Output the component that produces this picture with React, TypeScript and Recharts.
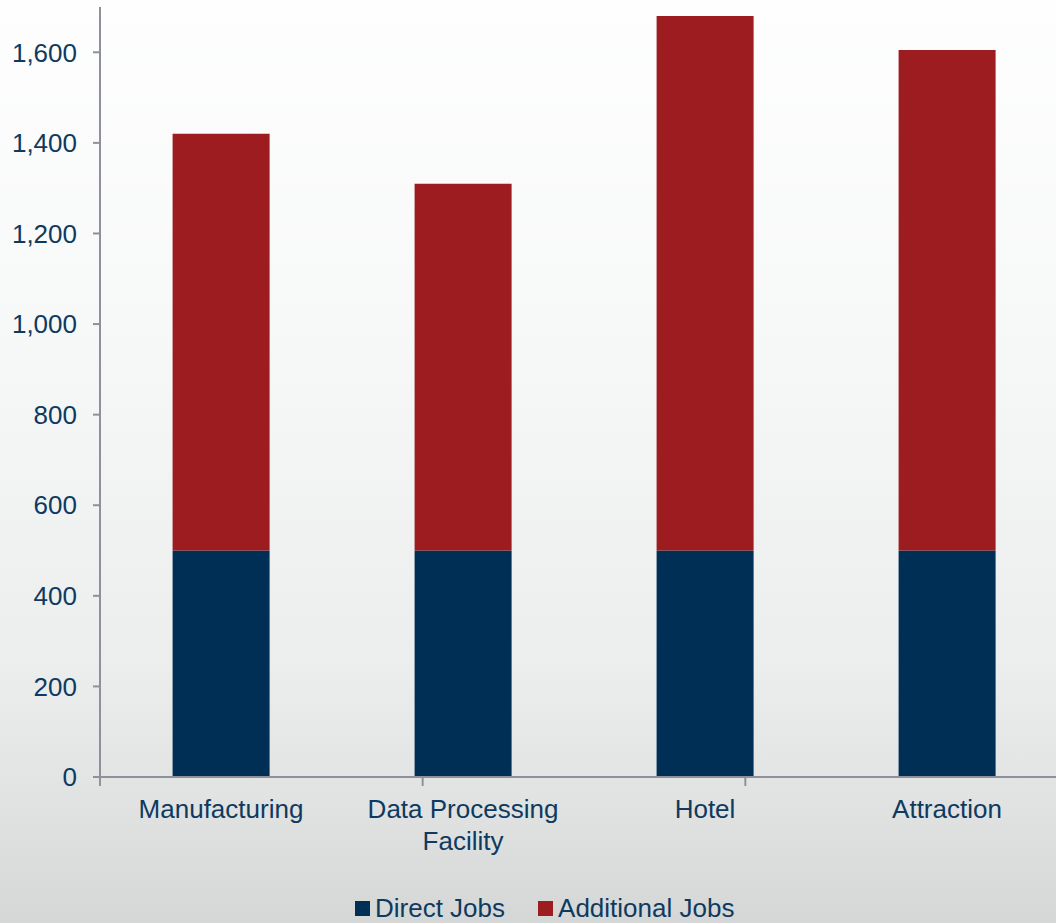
import React from 'react';
import { BarChart, Bar, XAxis, YAxis, Legend } from 'recharts';

const categories = ['Manufacturing', 'Data Processing Facility', 'Hotel', 'Attraction'];
const directJobs = [500, 500, 500, 500];
const additionalJobs = [920, 810, 1180, 1105];
const yTicks = [0, 200, 400, 600, 800, 1000, 1200, 1400, 1600];
const boundaryTicks = [0, 1, 2, 3, 4];
const seriesNames = ['Direct Jobs', 'Additional Jobs'];

const NAVY = '#002F56';
const RED = '#9C1C20';
const TEXT = '#0E3A5F';
const AXIS = '#8E9199';
const FONT = '"Liberation Sans", Arial, sans-serif';

const data = categories.map((c, i) => ({
  category: c,
  direct: directJobs[i],
  additional: additionalJobs[i],
}));

const wrapWords = (s: string, maxChars: number) => {
  const words = s.split(' ');
  const lines: string[] = [];
  let cur = '';
  words.forEach((w) => {
    const next = cur ? cur + ' ' + w : w;
    if (next.length > maxChars && cur) {
      lines.push(cur);
      cur = w;
    } else {
      cur = next;
    }
  });
  if (cur) lines.push(cur);
  return lines;
};

const CategoryTick = (props: any) => {
  const { x, y, payload } = props;
  const lines = wrapWords(String(payload.value), 16);
  return (
    <text x={x} y={y} textAnchor="middle" fill={TEXT} fontSize={26} fontFamily={FONT}>
      {lines.map((l, i) => (
        <tspan key={i} x={x} dy={i === 0 ? '0.71em' : '1.23em'}>
          {l}
        </tspan>
      ))}
    </text>
  );
};

const LegendContent = () => {
  const colors = [NAVY, RED];
  return (
    <div
      style={{
        height: 144,
        display: 'flex',
        alignItems: 'flex-end',
        justifyContent: 'flex-start',
        paddingLeft: 355,
        paddingBottom: 2,
        boxSizing: 'border-box',
        fontFamily: FONT,
        fontSize: 26,
        color: TEXT,
      }}
    >
      {seriesNames.map((n, i) => (
        <div key={n} style={{ display: 'flex', alignItems: 'center', marginRight: 33, height: 26 }}>
          <span style={{ display: 'inline-block', width: 15, height: 15, background: colors[i], marginRight: 5 }} />
          <span style={{ lineHeight: '26px' }}>{n}</span>
        </div>
      ))}
    </div>
  );
};

export default function App() {
  return (
    <div
      style={{
        position: 'absolute',
        left: 0,
        top: 0,
        width: 1056,
        height: 923,
        overflow: 'hidden',
        background: 'linear-gradient(to bottom, #fefefe 0%, #f7f8f8 35%, #eceded 72%, #e0e1e1 88%, #d5d6d6 100%)',
      }}
    >
      <BarChart
        width={1080}
        height={923}
        data={data}
        margin={{ top: 7, right: 12, left: 0, bottom: 0 }}
        barCategoryGap="30%"
      >
        <XAxis
          xAxisId="b"
          type="number"
          domain={[0, 4]}
          ticks={boundaryTicks}
          height={1}
          tickFormatter={() => ''}
          axisLine={false}
          tickLine={{ stroke: AXIS, strokeWidth: 2 }}
          tickSize={8}
        />
        <XAxis
          dataKey="category"
          height={1}
          tickLine={false}
          axisLine={{ stroke: AXIS, strokeWidth: 2 }}
          tickMargin={17}
          tick={<CategoryTick />}
          interval={0}
        />
        <YAxis
          width={100}
          domain={[0, 1700]}
          ticks={yTicks}
          allowDataOverflow
          tickFormatter={(v: number) => v.toLocaleString('en-US')}
          axisLine={{ stroke: AXIS, strokeWidth: 2 }}
          tickLine={{ stroke: AXIS, strokeWidth: 2 }}
          tickSize={7}
          tickMargin={16}
          tick={{ fill: TEXT, fontSize: 26, fontFamily: FONT }}
        />
        <Legend verticalAlign="bottom" content={<LegendContent />} />
        <Bar dataKey="direct" name={seriesNames[0]} stackId="a" fill={NAVY} isAnimationActive={false} />
        <Bar dataKey="additional" name={seriesNames[1]} stackId="a" fill={RED} isAnimationActive={false} />
      </BarChart>
    </div>
  );
}
